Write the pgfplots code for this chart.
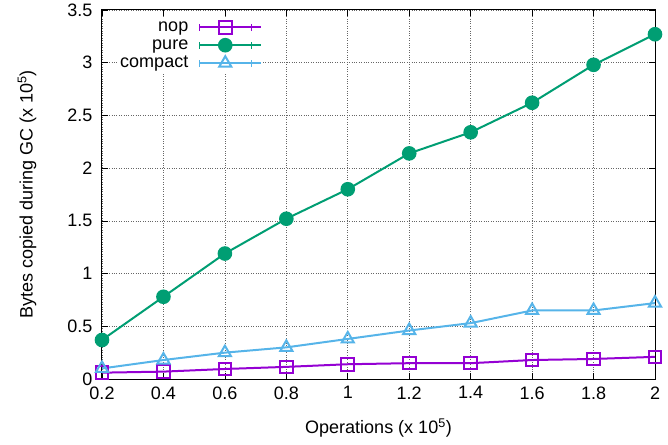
\documentclass[border=0pt]{standalone}
\usepackage{fontspec}
\setmainfont{Liberation Sans}
\usepackage{pgfplots}
\pgfplotsset{compat=1.18}
\definecolor{cnop}{HTML}{9400D3}
\definecolor{cpure}{HTML}{009E73}
\definecolor{ccomp}{HTML}{56B4E9}
\begin{document}
\begin{tikzpicture}
\begin{axis}[
  scale only axis,
  width=553pt, height=369pt,
  xmin=0.2, xmax=2, ymin=0, ymax=3.5,
  xtick={0.2,0.4,...,2.01}, ytick={0,0.5,...,3.51},
  xticklabels={0.2,0.4,0.6,0.8,1,1.2,1.4,1.6,1.8,2},
  yticklabels={0,0.5,1,1.5,2,2.5,3,3.5},
  /pgf/number format/assume math mode=true,
  font=\fontsize{18}{21}\selectfont,
  tick align=inside, major tick length=6pt,
  tick style={black, line width=0.6pt},
  axis line style={black, line width=1pt},
  grid=major,
  major grid style={black!60, dotted, line width=0.6pt},
  xticklabel style={yshift=-4pt},
  yticklabel style={xshift=-6pt},
  xlabel={Operations (x 10\textsuperscript{5})},
  ylabel={Bytes copied during GC (x 10\textsuperscript{5})},
  every axis x label/.style={at={(axis description cs:0.5,-0.133)}, anchor=center},
  every axis y label/.style={at={(axis description cs:-0.1356,0.5)}, rotate=90, anchor=center},
  legend cell align=right,
  legend plot pos=right,
  legend style={at={(rel axis cs:0.029,0.981)}, anchor=north west, draw=none, fill=white,
    inner sep=1pt, row sep=0pt, /tikz/column sep=9pt, font=\fontsize{18}{21}\selectfont,
    nodes={inner sep=1pt, text height=12pt, text depth=4pt}},
  legend image code/.code={
    \draw[#1, mark=none] (0pt,0pt) -- (52pt,0pt);
    \draw[#1, mark=none, line width=1.4pt] (0pt,-3.5pt) -- (0pt,3.5pt) (52pt,-3.5pt) -- (52pt,3.5pt);
    \draw[#1, only marks] plot coordinates {(26pt,0pt)};
    \path (52pt,0pt) -- (62pt,0pt);
  },
  every axis plot/.append style={line width=2pt},
]
\addplot[cnop, mark=square, mark size=6.3pt, mark options={line width=2pt}] coordinates {
 (0.2,0.06) (0.4,0.07) (0.6,0.095) (0.8,0.115) (1.0,0.14) (1.2,0.15) (1.4,0.15) (1.6,0.18) (1.8,0.19) (2.0,0.21)};
\addlegendentry{nop}
\addplot[cpure, mark=*, mark size=6.3pt] coordinates {
 (0.2,0.37) (0.4,0.78) (0.6,1.19) (0.8,1.52) (1.0,1.80) (1.2,2.14) (1.4,2.34) (1.6,2.62) (1.8,2.98) (2.0,3.27)};
\addlegendentry{pure}
\addplot[ccomp, mark=triangle, mark size=7pt, mark options={line width=2pt}] coordinates {
 (0.2,0.10) (0.4,0.18) (0.6,0.25) (0.8,0.30) (1.0,0.38) (1.2,0.46) (1.4,0.53) (1.6,0.65) (1.8,0.65) (2.0,0.72)};
\addlegendentry{compact}
\end{axis}
\pgfresetboundingbox
\path[use as bounding box] (current axis.south west) ++(-102pt,-65pt) rectangle ([xshift=13pt,yshift=10pt]current axis.north east);
\end{tikzpicture}
\end{document}
